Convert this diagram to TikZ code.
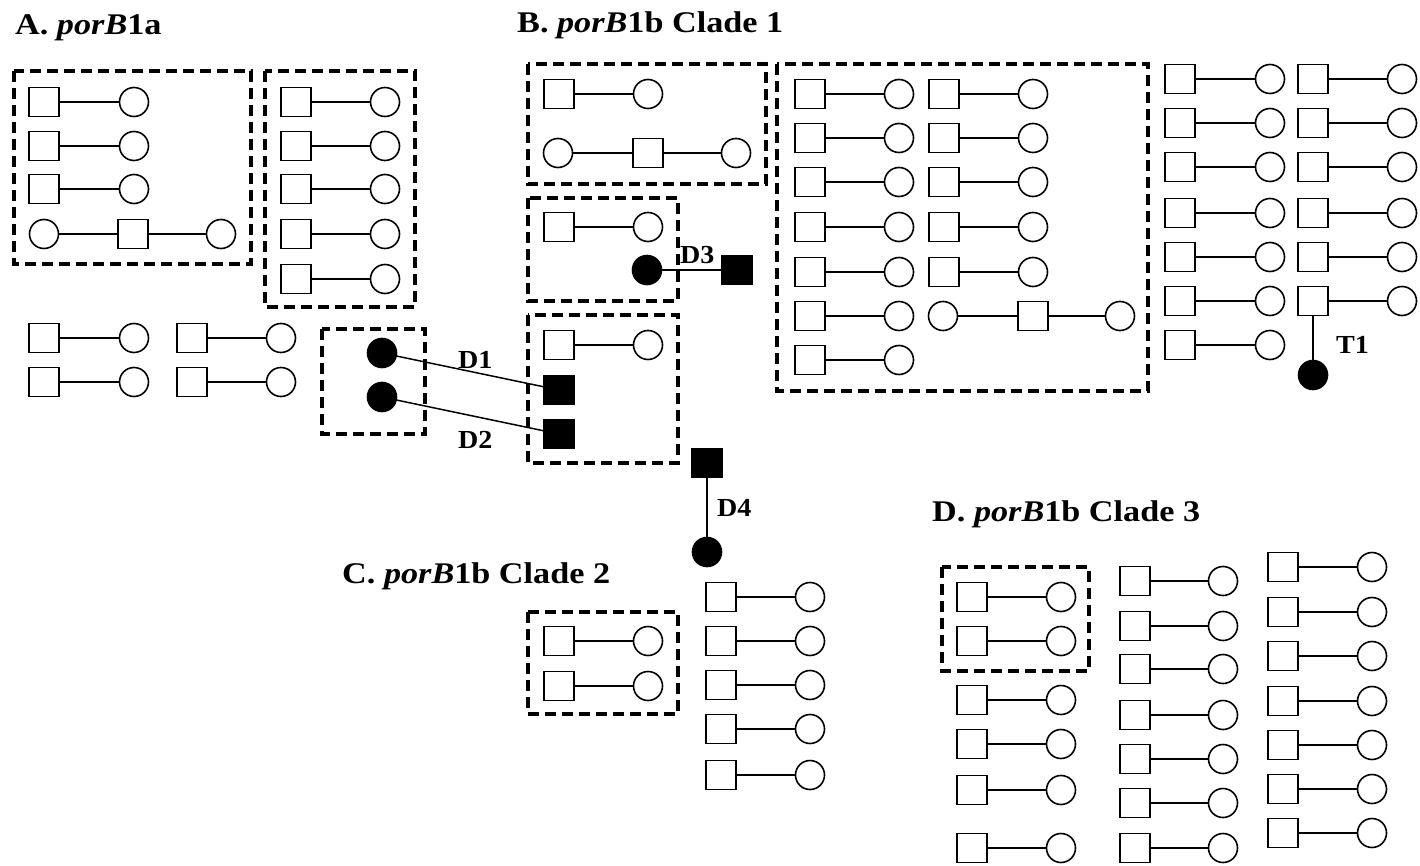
\documentclass[tikz,border=0pt]{standalone}
\usepackage{fontspec}
\setmainfont{Liberation Serif}
\usepackage{graphicx}
\newcommand\mypair[4]{\node[sq] (#1s) at (#2,#4) {}; \node[ci] (#1c) at (#3,#4) {}; \draw[link] (#1s) -- (#1c);}
\newcommand\mytriple[5]{\node[ci] (#1a) at (#2,#5) {}; \node[sq] (#1s) at (#3,#5) {}; \node[ci] (#1b) at (#4,#5) {}; \draw[link] (#1a) -- (#1s) -- (#1b);}
\begin{document}
\begin{tikzpicture}[x=1pt,y=-1pt,
  sq/.style={draw,line width=1.6pt,rectangle,minimum width=30pt,minimum height=29pt,inner sep=0pt},
  ci/.style={draw,line width=1.6pt,circle,minimum size=29pt,inner sep=0pt},
  bsq/.style={sq,fill=black},
  bci/.style={ci,fill=black},
  link/.style={line width=1.5pt},
  grp/.style={draw,line width=3.5pt,dash pattern=on 11pt off 6pt},
  ttl/.style={anchor=base west,inner sep=0pt,font=\fontsize{30}{36}\selectfont\bfseries},
  lbl/.style={anchor=base west,inner sep=0pt,font=\fontsize{26}{30}\selectfont\bfseries}]
\useasboundingbox (0,0) rectangle (1420,866);
\fill[white] (0,0) rectangle (1420,866);

% titles
\node[ttl] (tA) at (15,35) {\scalebox{1.14}[1]{A. \textit{porB}1a}};
\node[ttl] (tB) at (517,33) {\scalebox{1.14}[1]{B. \textit{porB}1b Clade 1}};
\node[ttl] (tC) at (342,583) {\scalebox{1.14}[1]{C. \textit{porB}1b Clade 2}};
\node[ttl] (tD) at (932,521) {\scalebox{1.14}[1]{D. \textit{porB}1b Clade 3}};

% ---------- A ----------
\draw[grp] (14,71) rectangle (251,264);
\foreach \y [count=\i] in {102,146,189} {\mypair{aa\i}{44}{134}{\y}}
\mytriple{aat}{44}{133}{221}{234}
\draw[grp] (265,71) rectangle (415,307);
\foreach \y [count=\i] in {102,146,189,234,279} {\mypair{ab\i}{296}{385}{\y}}
\foreach \y [count=\i] in {338,382} {\mypair{ac\i}{44}{134}{\y}\mypair{ad\i}{192}{281}{\y}}
\draw[grp] (322,329) rectangle (425,434);
\node[bci] (bc1) at (382,353) {};
\node[bci] (bc2) at (382,397) {};

% ---------- B ----------
\draw[grp] (528,64) rectangle (766,184);
\mypair{b1}{559}{648}{94}
\mytriple{b1t}{558}{648}{736}{153}
\draw[grp] (528,198) rectangle (678,301);
\mypair{b2}{559}{648}{227}
\node[bci] (d3c) at (647,270) {};
\node[bsq] (d3s) at (737,270) {};
\draw[link] (d3c) -- (d3s);
\node[lbl] (lD3) at (680,264) {\scalebox{1.08}[1]{D3}};
\draw[grp] (528,315) rectangle (678,463);
\mypair{b3}{559}{648}{345}
\node[bsq] (bs1) at (559,390) {};
\node[bsq] (bs2) at (559,434) {};
\draw[link] (bc1) -- (bs1);
\draw[link] (bc2) -- (bs2);
\node[lbl] (lD1) at (458,368) {\scalebox{1.08}[1]{D1}};
\node[lbl] (lD2) at (458,448) {\scalebox{1.08}[1]{D2}};
\node[bsq] (d4s) at (707,463) {};
\node[bci] (d4c) at (707,552) {};
\draw[link] (d4s) -- (d4c);
\node[lbl] (lD4) at (717,516) {\scalebox{1.08}[1]{D4}};

\draw[grp] (777,64) rectangle (1148,391);
\foreach \y [count=\i] in {94,138,182,227,272,316,360} {\mypair{e\i}{810}{899}{\y}}
\foreach \y [count=\i] in {94,138,182,227,272} {\mypair{f\i}{944}{1033}{\y}}
\mytriple{ft}{943}{1033}{1120}{316}
\foreach \y [count=\i] in {79,123,167,213,257,301,345} {\mypair{g\i}{1180}{1270}{\y}}
\foreach \y [count=\i] in {79,123,167,213,257} {\mypair{h\i}{1313}{1402}{\y}}
\mypair{hsix}{1313}{1402}{301}
\node[bci] (t1c) at (1313,375) {};
\draw[link] (hsixs) -- (t1c);
\node[lbl] (lT1) at (1336,353) {\scalebox{1.08}[1]{T1}};

% ---------- C ----------
\draw[grp] (528,612) rectangle (678,714);
\foreach \y [count=\i] in {641,686} {\mypair{c\i}{559}{648}{\y}}
\foreach \y [count=\i] in {597,641,685,729,775} {\mypair{k\i}{721}{810}{\y}}

% ---------- D ----------
\draw[grp] (942,567) rectangle (1089,671);
\foreach \y [count=\i] in {597,641,700,744,790,848} {\mypair{m\i}{972}{1061}{\y}}
\foreach \y [count=\i] in {581,626,669,715,759,803,848} {\mypair{n\i}{1135}{1223}{\y}}
\foreach \y [count=\i] in {567,612,656,701,745,789,833} {\mypair{p\i}{1283}{1372}{\y}}
\end{tikzpicture}
\end{document}
